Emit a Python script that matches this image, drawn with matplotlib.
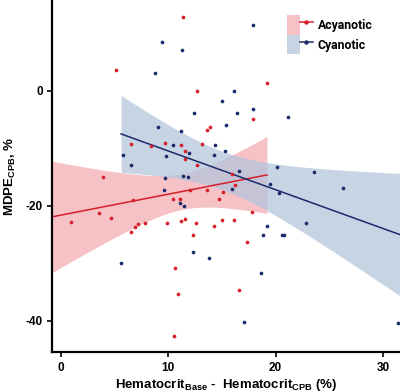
import numpy as np
import matplotlib
matplotlib.use("Agg")
import matplotlib.pyplot as plt
from matplotlib.patches import Patch
from matplotlib.lines import Line2D
from matplotlib.legend_handler import HandlerTuple

# ---- data ----
acy_x = [11.4, 5.1, 19.2, 12.7, 17.9, 13.9, 13.6, 13.1, 9.7, 11.2, 6.5, 8.4, 11.6, 11.6,
         12.7, 15.9, 16.2, 3.9, 13.6, 15.1, 12.0, 14.7, 10.4, 11.1, 6.7, 3.5, 4.7, 0.9,
         7.8, 7.2, 6.9, 6.5, 9.9, 17.8, 11.2, 11.6, 12.6, 15.0, 16.1, 14.3, 12.3, 17.3,
         10.6, 16.6, 10.9, 10.5]
acy_y = [12.9, 3.7, 1.4, 0.0, -4.9, -6.2, -6.8, -9.2, -9.1, -9.4, -9.3, -9.5, -10.4, -11.8,
         -12.9, -14.5, -16.4, -15.0, -17.3, -17.6, -17.2, -18.8, -18.8, -18.8, -18.9, -21.2,
         -22.1, -22.8, -22.9, -23.1, -23.6, -24.6, -23.0, -21.0, -22.6, -22.3, -23.0, -22.4,
         -22.4, -23.5, -25.0, -26.3, -30.8, -34.6, -35.4, -42.7]

cya_x = [17.9, 9.4, 11.3, 8.8, 16.1, 15.0, 16.4, 17.9, 21.2, 12.4, 15.4, 9.0, 11.2, 14.4,
         10.4, 15.3, 14.3, 11.9, 9.8, 5.8, 6.5, 20.1, 23.6, 16.6, 26.3, 19.5, 20.3, 15.9,
         11.4, 11.8, 9.7, 9.6, 11.1, 11.5, 5.6, 19.2, 18.8, 20.6, 20.8, 22.8, 12.3, 13.8,
         18.6, 17.1, 31.4]
cya_y = [11.4, 8.5, 7.1, 3.1, 0.0, -1.7, -3.8, -3.2, -4.5, -3.9, -5.9, -6.3, -7.0, -9.4,
         -9.4, -10.4, -11.1, -10.8, -11.4, -11.1, -12.9, -13.2, -14.1, -13.9, -16.8, -16.2,
         -17.8, -17.0, -14.8, -15.0, -15.2, -17.3, -19.5, -20.1, -30.0, -23.5, -25.0, -25.0,
         -25.0, -22.9, -28.1, -29.1, -31.6, -40.1, -40.3]

# fitted line of the acyanotic group: intercept, slope
acy_fit = [-21.6, 0.364]

groups = ["Acyanotic", "Cyanotic"]
x_ticks = [0, 10, 20, 30]
y_ticks = [-40, -20, 0]

RED = "#d51f2a"
BLUE = "#1b2b6b"
RED_FILL = "#f5b3b8"
BLUE_FILL = "#b4c6dc"

XMIN, XMAX = -0.84, 31.6
YMIN, YMAX = -45.4, 15.8


def fit_band(x, y, x0, x1, coef=None, tval=2.015):
    x = np.asarray(x, float)
    y = np.asarray(y, float)
    n = len(x)
    if coef is None:
        b, a = np.polyfit(x, y, 1)
    else:
        a, b = coef
    resid = y - (a + b * x)
    s = np.sqrt(np.sum(resid ** 2) / (n - 2))
    xm = x.mean()
    sxx = np.sum((x - xm) ** 2)
    xs = np.linspace(x0, x1, 200)
    ys = a + b * xs
    se = s * np.sqrt(1.0 / n + (xs - xm) ** 2 / sxx)
    return xs, ys, ys - tval * se, ys + tval * se


fig = plt.figure(figsize=(4.0, 3.92), dpi=100)
ax = fig.add_axes([52 / 400, 40 / 392, 348 / 400, 352 / 392])

rx, ry, rlo, rhi = fit_band(acy_x, acy_y, XMIN, max(acy_x), coef=acy_fit)
bx, by, blo, bhi = fit_band(cya_x, cya_y, min(cya_x), XMAX)

ax.fill_between(rx, rlo, rhi, color=RED_FILL, alpha=0.8, lw=0, zorder=1)
ax.fill_between(bx, blo, bhi, color=BLUE_FILL, alpha=0.75, lw=0, zorder=1.1)
ax.plot(rx, ry, color=RED, lw=1.1, zorder=2)
ax.plot(bx, by, color=BLUE, lw=1.1, zorder=2)

ax.scatter(acy_x, acy_y, s=7, color=RED, lw=0, zorder=3)
ax.scatter(cya_x, cya_y, s=7, color=BLUE, lw=0, zorder=3)

ax.set_xlim(XMIN, XMAX)
ax.set_ylim(YMIN, YMAX)
ax.set_xticks(x_ticks)
ax.set_yticks(y_ticks)
ax.set_xticklabels([str(t) for t in x_ticks], fontsize=8.5, fontweight="bold",
                   family="Liberation Sans")
ax.set_yticklabels([str(t) for t in y_ticks], fontsize=8.5, fontweight="bold",
                   family="Liberation Sans")
ax.tick_params(axis="both", length=3.5, width=1.2, colors="black")
ax.tick_params(axis="x", pad=4)
ax.tick_params(axis="y", pad=3)
for side in ["top", "right"]:
    ax.spines[side].set_visible(False)
for side in ["left", "bottom"]:
    ax.spines[side].set_linewidth(1.6)

ax.set_xlabel(r"Hematocrit$_{\mathregular{Base}}$ -  Hematocrit$_{\mathregular{CPB}}$ (%)",
              fontsize=9.5, fontweight="bold", family="Liberation Sans", labelpad=2)
ax.set_ylabel(r"MDPE$_{\mathregular{CPB}}$, %", fontsize=9.5, fontweight="bold",
              family="Liberation Sans", labelpad=6)

handles = [
    (Patch(facecolor=RED_FILL, alpha=0.8, lw=0),
     Line2D([], [], color=RED, lw=1.1, marker="o", markersize=2.2)),
    (Patch(facecolor=BLUE_FILL, alpha=0.75, lw=0),
     Line2D([], [], color=BLUE, lw=1.1, marker="o", markersize=2.2)),
]
leg = ax.legend(handles, groups, handler_map={tuple: HandlerTuple(ndivide=None, pad=0)},
                loc="upper left", bbox_to_anchor=(0.675, 0.957), frameon=False,
                borderpad=0, borderaxespad=0, handlelength=2.1, handleheight=2.1,
                labelspacing=0, handletextpad=0.4,
                prop={"family": "Roboto", "weight": "bold", "size": 8.8})

fig.savefig("out.png", dpi=100)
